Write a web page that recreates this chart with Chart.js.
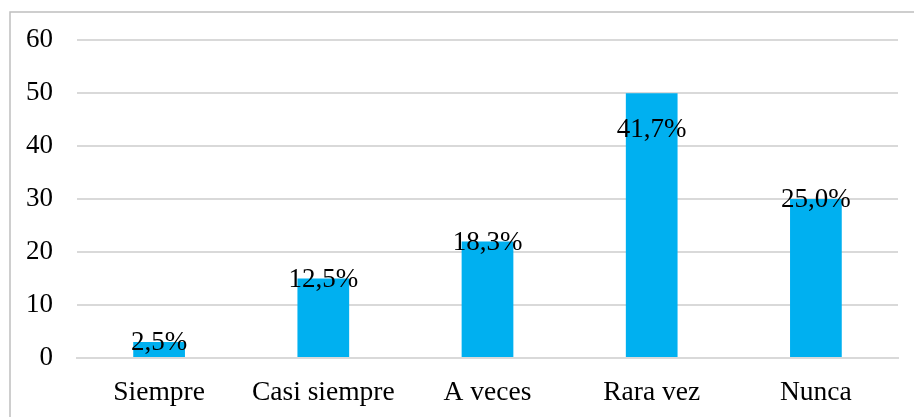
<!DOCTYPE html>
<html>
<head>
<meta charset="utf-8">
<script src="https://cdn.jsdelivr.net/npm/chart.js@4"></script>
<style>
  html, body { margin: 0; padding: 0; background: #fff; overflow: hidden; }
  #wrap { width: 914px; height: 417px; position: relative; }
</style>
</head>
<body>
<div id="wrap"><canvas id="c" width="914" height="417"></canvas></div>
<script>
// Response categories and counts (total 120 respondents)
const categories = ['Siempre', 'Casi siempre', 'A veces', 'Rara vez', 'Nunca'];
const counts = [3, 15, 22, 50, 30];
const yTicks = [0, 10, 20, 30, 40, 50, 60];

const total = counts.reduce((a, b) => a + b, 0);
const FONT = '"Liberation Serif", "Times New Roman", serif';

// Percent labels, centred on each bar's top; the tallest bar carries its label inside
const percentLabels = {
  id: 'percentLabels',
  afterDatasetsDraw(chart) {
    const ctx = chart.ctx;
    const meta = chart.getDatasetMeta(0);
    const maxCount = Math.max(...counts);
    ctx.save();
    ctx.font = '27px ' + FONT;
    ctx.fillStyle = '#000';
    ctx.textAlign = 'center';
    ctx.textBaseline = 'middle';
    meta.data.forEach((bar, i) => {
      const pct = (counts[i] / total * 100).toFixed(1).replace('.', ',') + '%';
      const y = counts[i] === maxCount ? bar.y + 37 : bar.y + 1;
      ctx.fillText(pct, bar.x, y);
    });
    ctx.restore();
  }
};

// Outer frame of the chart box
const frame = {
  id: 'frame',
  beforeDraw(chart) {
    const ctx = chart.ctx;
    ctx.save();
    ctx.fillStyle = '#fff';
    ctx.fillRect(0, 0, chart.width, chart.height);
    ctx.strokeStyle = '#bfbfbf';
    ctx.lineWidth = 1.5;
    ctx.strokeRect(10, 12, chart.width + 20, chart.height + 20);
    ctx.restore();
  }
};

new Chart(document.getElementById('c'), {
  type: 'bar',
  data: {
    labels: categories,
    datasets: [{
      data: counts,
      backgroundColor: '#00B0F0',
      borderWidth: 0,
      categoryPercentage: 1,
      barPercentage: 0.315
    }]
  },
  options: {
    responsive: false,
    animation: false,
    devicePixelRatio: 1,
    layout: { padding: { left: 0, top: 39, right: 16, bottom: 0 } },
    plugins: {
      legend: { display: false },
      tooltip: { enabled: false }
    },
    scales: {
      x: {
        grid: { display: false, drawTicks: false },
        border: { display: true, color: '#d9d9d9', width: 2 },
        ticks: {
          color: '#000',
          font: { family: FONT, size: 27.5 },
          padding: 18,
          maxRotation: 0
        },
        afterFit(scale) { scale.height = 59; }
      },
      y: {
        min: 0,
        max: 60,
        afterBuildTicks(scale) { scale.ticks = yTicks.map(v => ({ value: v })); },
        grid: { color: '#d9d9d9', lineWidth: 2, drawTicks: false },
        border: { display: false },
        ticks: {
          color: '#000',
          font: { family: FONT, size: 27 },
          padding: 24
        },
        afterFit(scale) { scale.width = 77; }
      }
    }
  },
  plugins: [frame, percentLabels]
});
</script>
</body>
</html>
